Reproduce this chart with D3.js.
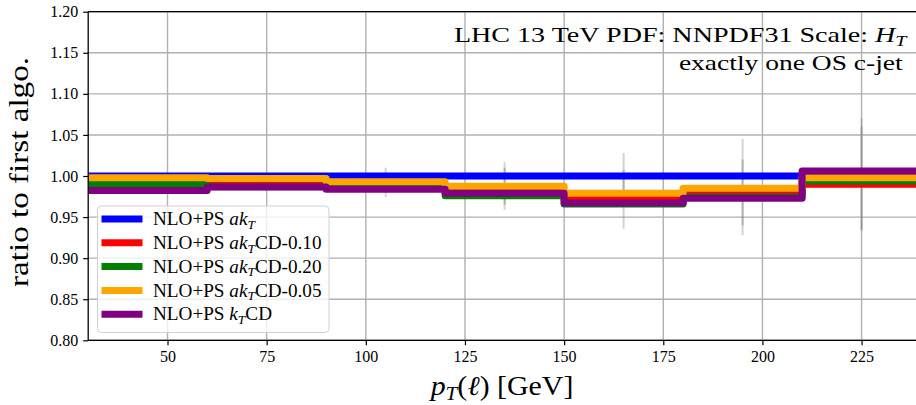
<!DOCTYPE html>
<html><head><meta charset="utf-8">
<script src="https://cdn.jsdelivr.net/npm/d3@7"></script>
<style>body{margin:0;background:#fff}svg{display:block}</style>
</head><body><svg id="c" width="916" height="405"></svg>
<script>
// ---- data ----
const binEdges = [30, 60, 90, 120, 150, 180, 210, 240];
const seriesLabels = ["akT", "akTCD-0.10", "akTCD-0.20", "akTCD-0.05", "kTCD"];
const seriesColors = ["#0000ff", "#ff0000", "#008000", "#ffa500", "#800080"];
const ratioAkT     = [1.000, 1.000, 1.000, 1.000, 1.000, 1.000, 1.000];
const ratioCD010   = [0.994, 0.990, 0.988, 0.981, 0.973, 0.979, 0.990];
const ratioCD020   = [0.990, 0.987, 0.986, 0.976, 0.966, 0.9745, 0.994];
const ratioCD005   = [0.998, 0.997, 0.993, 0.9875, 0.979, 0.985, 0.998];
const ratioKtCD    = [0.9825, 0.9865, 0.984, 0.979, 0.967, 0.973, 1.006];
const errCenters   = [45, 75, 105, 135, 165, 195, 225];
const errOuterLo   = [0.986, 0.983, 0.974, 0.959, 0.936, 0.928, 0.933];
const errOuterHi   = [0.998, 1.000, 1.010, 1.017, 1.028, 1.045, 1.070];
const errInnerLo   = [0.988, 0.985, 0.980, 0.965, 0.967, 0.940, 0.935];
const errInnerHi   = [0.996, 0.998, 1.004, 1.010, 1.007, 1.020, 1.060];
const xTicks = [50, 75, 100, 125, 150, 175, 200, 225];
const yTicks = [0.80, 0.85, 0.90, 0.95, 1.00, 1.05, 1.10, 1.15, 1.20];

const seriesValues = [ratioAkT, ratioCD010, ratioCD020, ratioCD005, ratioKtCD];

// ---- layout ----
const svg = d3.select("#c");
const L = 88.2, T = 11.7, B = 340.3;
const R = L + 210 * 3.966;
const x = d3.scaleLinear().domain([30, 240]).range([L, R]);
const y = d3.scaleLinear().domain([0.80, 1.20]).range([B, T]);
const serif = "'Liberation Serif','Times New Roman',serif";

// stretch text horizontally (Computer Modern is wider than Times)
function fitWidth(sel, target, ax) {
  const w = sel.node().getBBox().width;
  const f = target / w;
  sel.attr("transform", `translate(${ax},0) scale(${f},1) translate(${-ax},0)`);
  return f;
}

svg.append("defs").append("clipPath").attr("id", "clip")
  .append("rect").attr("x", L).attr("y", T).attr("width", R - L).attr("height", B - T);

// grid
const grid = svg.append("g");
grid.selectAll(".gx").data(xTicks).join("line")
  .attr("x1", d => x(d)).attr("x2", d => x(d)).attr("y1", T).attr("y2", B)
  .attr("stroke", "#b0b0b0").attr("stroke-width", 1.4);
grid.selectAll(".gy").data(yTicks).join("line")
  .attr("x1", L).attr("x2", R).attr("y1", d => y(d)).attr("y2", d => y(d))
  .attr("stroke", "#b0b0b0").attr("stroke-width", 1.4);

// error bars
const plot = svg.append("g").attr("clip-path", "url(#clip)");
plot.selectAll(".eo").data(errCenters).join("line")
  .attr("x1", d => x(d)).attr("x2", d => x(d))
  .attr("y1", (d, i) => y(errOuterLo[i])).attr("y2", (d, i) => y(errOuterHi[i]))
  .attr("stroke", "#808080").attr("stroke-opacity", 0.35).attr("stroke-width", 2);
plot.selectAll(".ei").data(errCenters).join("line")
  .attr("x1", d => x(d)).attr("x2", d => x(d))
  .attr("y1", (d, i) => y(errInnerLo[i])).attr("y2", (d, i) => y(errInnerHi[i]))
  .attr("stroke", "#808080").attr("stroke-opacity", 0.45).attr("stroke-width", 2);

// step lines
const line = d3.line().x(d => x(d[0])).y(d => y(d[1])).curve(d3.curveStepAfter);
seriesValues.forEach((vals, si) => {
  const pts = binEdges.map((e, i) => [e, vals[Math.min(i, vals.length - 1)]]);
  plot.append("path").attr("d", line(pts)).attr("fill", "none")
    .attr("stroke", seriesColors[si]).attr("stroke-width", 7)
    .attr("stroke-linejoin", "round").attr("stroke-linecap", "butt");
});

// spines
svg.append("line").attr("x1", L).attr("x2", L).attr("y1", T).attr("y2", B).attr("stroke", "#000").attr("stroke-width", 1.3);
svg.append("line").attr("x1", L).attr("x2", R).attr("y1", B).attr("y2", B).attr("stroke", "#000").attr("stroke-width", 1.3);
svg.append("line").attr("x1", L).attr("x2", R).attr("y1", T).attr("y2", T).attr("stroke", "#000").attr("stroke-width", 1.3);

// axes
const xAxis = svg.append("g").attr("transform", `translate(0,${B})`)
  .call(d3.axisBottom(x).tickValues(xTicks).tickSize(5).tickPadding(5).tickFormat(d3.format("d")));
const yAxis = svg.append("g").attr("transform", `translate(${L},0)`)
  .call(d3.axisLeft(y).tickValues(yTicks).tickSize(5).tickPadding(5).tickFormat(d3.format(".2f")));
[xAxis, yAxis].forEach(a => {
  a.select(".domain").remove();
  a.selectAll(".tick line").attr("stroke", "#000").attr("stroke-width", 1.2);
  a.selectAll(".tick text").attr("font-family", serif).attr("font-size", 16).attr("fill", "#000");
});

// axis labels
const xl = svg.append("text").attr("x", 502).attr("y", 395).attr("text-anchor", "middle")
  .attr("font-family", serif).attr("font-size", 27).attr("fill", "#000");
xl.append("tspan").attr("font-style", "italic").text("p");
xl.append("tspan").attr("font-style", "italic").attr("font-size", 19).attr("dy", 5).text("T");
xl.append("tspan").attr("dy", -5).text("(");
xl.append("tspan").attr("font-style", "italic").text("ℓ");
xl.append("tspan").text(") [GeV]");
fitWidth(xl, 145, 502);

svg.append("text").attr("transform", "translate(28,172) rotate(-90)").attr("text-anchor", "middle")
  .attr("font-family", serif).attr("font-size", 27).attr("fill", "#000")
  .attr("textLength", 230).attr("lengthAdjust", "spacingAndGlyphs")
  .text("ratio to first algo.");

// annotation
const a1 = svg.append("text").attr("x", 906.5).attr("y", 42).attr("text-anchor", "end")
  .attr("font-family", serif).attr("font-size", 21).attr("fill", "#000");
a1.append("tspan").text("LHC 13 TeV PDF: NNPDF31 Scale: ");
a1.append("tspan").attr("font-style", "italic").text("H");
a1.append("tspan").attr("font-style", "italic").attr("font-size", 15).attr("dy", 4).text("T");
fitWidth(a1, 455, 906.5);
const a2 = svg.append("text").attr("x", 902.7).attr("y", 70.5).attr("text-anchor", "end")
  .attr("font-family", serif).attr("font-size", 21).attr("fill", "#000").text("exactly one OS c-jet");
fitWidth(a2, 224, 902.7);

// legend
const lg = svg.append("g");
lg.append("rect").attr("x", 97.5).attr("y", 206).attr("width", 231.5).attr("height", 126.5)
  .attr("rx", 4).attr("fill", "#fff").attr("fill-opacity", 0.8).attr("stroke", "#d0d0d0").attr("stroke-width", 1);
let legF = null;
seriesLabels.forEach((lab, i) => {
  const cy = 219 + i * 23.8;
  lg.append("line").attr("x1", 101.5).attr("x2", 142.5).attr("y1", cy).attr("y2", cy)
    .attr("stroke", seriesColors[i]).attr("stroke-width", 7);
  const t = lg.append("text").attr("x", 153).attr("y", cy + 6.3)
    .attr("font-family", serif).attr("font-size", 18.5).attr("fill", "#000");
  t.append("tspan").text("NLO+PS ");
  const m = lab.match(/^(a?k)T(.*)$/);
  t.append("tspan").attr("font-style", "italic").text(m[1]);
  t.append("tspan").attr("font-style", "italic").attr("font-size", 13).attr("dy", 3.5).text("T");
  t.append("tspan").attr("dy", -3.5).text(m[2]);
  if (i === 1) legF = fitWidth(t, 168.7, 153);
});
lg.selectAll("text").attr("transform", `translate(153,0) scale(${legF},1) translate(-153,0)`);
</script>
</body></html>
